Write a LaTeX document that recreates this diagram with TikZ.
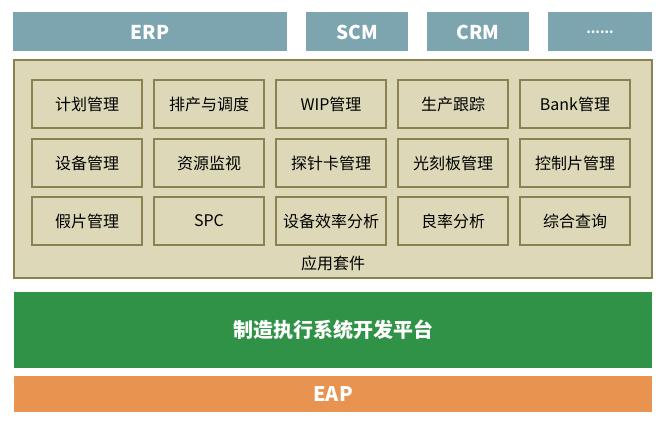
\documentclass[tikz,border=0pt]{standalone}
\usepackage{fontspec}
\setmainfont{Noto Sans CJK SC}
\begin{document}
\begin{tikzpicture}[x=1pt,y=-1pt,
 topbox/.style={fill=topc,draw=none,text=white,font=\bfseries\fontsize{19}{22}\selectfont},
 appbox/.style={fill=boxc,draw=oliv,line width=1.5pt,minimum width=110pt,minimum height=48pt,font=\fontsize{16}{19}\selectfont,inner sep=0pt}]
\definecolor{topc}{HTML}{7DA5B0}
\definecolor{boxc}{HTML}{DDD9B8}
\definecolor{oliv}{HTML}{8C8150}
\definecolor{greenc}{HTML}{2F9246}
\definecolor{orangec}{HTML}{E8934F}
\useasboundingbox (0,0) rectangle (666,420);
\node[topbox,minimum width=274pt,minimum height=39pt] (erp) at (150,32) {ERP};
\node[topbox,minimum width=102pt,minimum height=39pt] (scm) at (357,32) {SCM};
\node[topbox,minimum width=102pt,minimum height=39pt] (crm) at (478,32) {CRM};
\node[topbox,minimum width=104pt,minimum height=39pt] (dots) at (600,32) {\fontsize{13}{15}\selectfont ......};
\node[fill=boxc,draw=oliv,line width=1.5pt,minimum width=638pt,minimum height=218pt,inner sep=0pt] (panel) at (333,169) {};
\foreach \t [count=\i] in {计划管理,排产与调度,WIP管理,生产跟踪,Bank管理}
  \node[appbox] (a\i) at ({87+122*(\i-1)},104) {\t};
\foreach \t [count=\i] in {设备管理,资源监视,探针卡管理,光刻板管理,控制片管理}
  \node[appbox] (b\i) at ({87+122*(\i-1)},163) {\t};
\foreach \t [count=\i] in {假片管理,SPC,设备效率分析,良率分析,综合查询}
  \node[appbox] (c\i) at ({87+122*(\i-1)},221) {\t};
\node[font=\fontsize{16}{19}\selectfont] (lbl) at (333,263) {应用套件};
\node[fill=greenc,minimum width=638pt,minimum height=76pt,text=white,font=\bfseries\fontsize{20}{24}\selectfont] (mes) at (333,330) {制造执行系统开发平台};
\node[fill=orangec,minimum width=638pt,minimum height=36pt,text=white,font=\bfseries\fontsize{20}{24}\selectfont] (eap) at (333,394) {EAP};
\end{tikzpicture}
\end{document}
